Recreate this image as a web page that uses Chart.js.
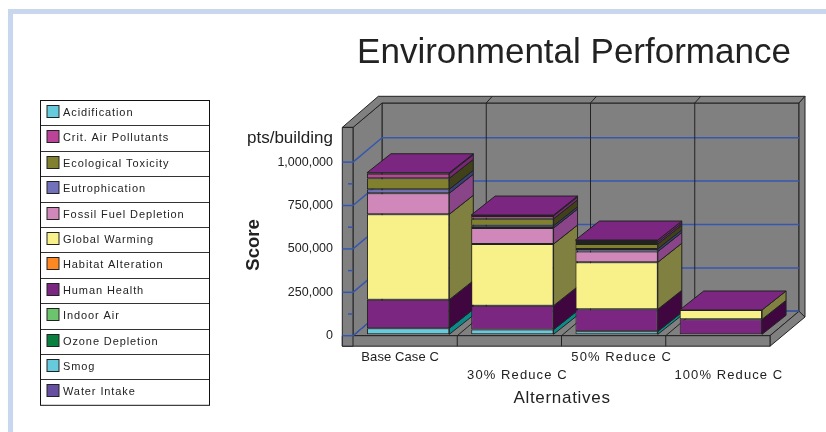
<!DOCTYPE html>
<html>
<head>
<meta charset="utf-8">
<title>Environmental Performance</title>
<script src="https://cdn.jsdelivr.net/npm/chart.js@4"></script>
<style>
  html, body { margin: 0; padding: 0; background: #fff; overflow: hidden; }
  #frame { position: absolute; left: 8px; top: 9px; right: 0; bottom: 0; border-left: 5px solid #c9d7ee; border-top: 5px solid #c9d7ee; }
  #chart { position: absolute; left: 0; top: 0; }
</style>
</head>
<body>
<div id="frame"></div>
<canvas id="chart" width="826" height="432"></canvas>
<script>
const categories = ["Base Case C", "30% Reduce C", "50% Reduce C", "100% Reduce C"];
const yTicks = [0, 250000, 500000, 750000, 1000000];

// legend order, stack runs the other way (last one sits at the bottom)
const seriesNames = ["Acidification", "Crit. Air Pollutants", "Ecological Toxicity", "Eutrophication",
  "Fossil Fuel Depletion", "Global Warming", "Habitat Alteration", "Human Health", "Indoor Air",
  "Ozone Depletion", "Smog", "Water Intake"];

const acidification = [5000, 5000, 11500, 0];
const critAir = [27000, 17000, 11500, 0];
const ecoTox = [63000, 40000, 28000, 0];
const eutrophication = [23000, 13000, 15000, 0];
const fossilFuel = [121000, 92000, 62000, 0];
const globalWarming = [492000, 355000, 271000, 54000];
const habitat = [0, 0, 0, 0];
const humanHealth = [165000, 138000, 127000, 86000];
const indoorAir = [0, 0, 0, 0];
const ozone = [0, 0, 0, 0];
const smog = [34500, 27000, 17000, 0];
const waterIntake = [0, 0, 0, 0];

const seriesValues = [acidification, critAir, ecoTox, eutrophication, fossilFuel, globalWarming,
  habitat, humanHealth, indoorAir, ozone, smog, waterIntake];

const frontColors = ["#66ccdd", "#bb4499", "#80802f", "#7070bb", "#d088bb", "#f8f088",
  "#ff8822", "#7b2680", "#6cc46c", "#0a8040", "#66ccdd", "#664fa0"];
const sideColors = ["#7a2678", "#7a2678", "#40401a", "#384078", "#8a4488", "#808040",
  "#804010", "#3f0640", "#366236", "#054020", "#0a8a8a", "#332850"];
const topColor = "#7b2680";

const wallGray = "#808080";
const edgeDark = "#222222";
const gridBlue = "#3557b0";
const textColor = "#222222";
const fontFamily = "'Liberation Sans', Arial, sans-serif";

// how far the box recedes, and how far each bar sits in from the front plane
const depthX = 29, depthY = 24.4;
const wallX = 10.7;
const capX = 6, capY = 6.7;
const barDepthX = 24, barDepthY = 19;
const barGapX = 3, barGapY = -1.4;

function poly(ctx, pts, fill, stroke) {
  ctx.beginPath();
  ctx.moveTo(pts[0][0], pts[0][1]);
  for (let i = 1; i < pts.length; i++) ctx.lineTo(pts[i][0], pts[i][1]);
  ctx.closePath();
  if (fill) { ctx.fillStyle = fill; ctx.fill(); }
  if (stroke) { ctx.strokeStyle = stroke; ctx.lineWidth = 1; ctx.stroke(); }
}

function line(ctx, x1, y1, x2, y2, color, width) {
  ctx.beginPath();
  ctx.moveTo(x1, y1);
  ctx.lineTo(x2, y2);
  ctx.strokeStyle = color;
  ctx.lineWidth = width || 1;
  ctx.stroke();
}

function label(ctx, str, x, y, font, align, spacing) {
  ctx.font = font;
  ctx.textAlign = align;
  ctx.textBaseline = "middle";
  ctx.letterSpacing = (spacing || 0) + "px";
  ctx.fillStyle = textColor;
  ctx.fillText(str, x, y);
  ctx.letterSpacing = "0px";
}

// back wall, left wall and floor, behind everything
const boxPlugin = {
  id: "box",
  beforeDraw(chart) {
    const ctx = chart.ctx, a = chart.chartArea;
    const l = a.left, r = a.right, t = a.top, b = a.bottom;
    const yScale = chart.scales.y, xScale = chart.scales.x;
    ctx.save();

    // back wall
    poly(ctx, [[l + depthX, t - depthY], [r + depthX, t - depthY], [r + depthX, b - depthY], [l + depthX, b - depthY]], wallGray, edgeDark);
    // floor top
    poly(ctx, [[l, b], [r, b], [r + depthX, b - depthY], [l + depthX, b - depthY]], wallGray, edgeDark);
    // left wall, inner face
    poly(ctx, [[l, t], [l + depthX, t - depthY], [l + depthX, b - depthY], [l, b]], wallGray, edgeDark);
    // wall cap along the top
    poly(ctx, [[l - wallX, t], [l - wallX + depthX + capX + 1, t - depthY - capY], [r + depthX + capX, t - depthY - capY],
      [r + depthX, t - depthY], [l + depthX, t - depthY], [l, t]], wallGray, edgeDark);
    // right wall edge
    poly(ctx, [[r + depthX, t - depthY], [r + depthX + capX, t - depthY - capY], [r + depthX + capX, b - depthY + capY - 1], [r + depthX, b - depthY]], wallGray, edgeDark);
    // floor front and right side
    poly(ctx, [[r, b], [r + depthX, b - depthY], [r + depthX + capX, b - depthY + capY - 1], [r, b + 10.5]], wallGray, edgeDark);
    poly(ctx, [[l - wallX, b], [r, b], [r, b + 10.5], [l - wallX, b + 10.5]], wallGray, edgeDark);
    // left wall front
    poly(ctx, [[l - wallX, t], [l, t], [l, b + 10.5], [l - wallX, b + 10.5]], wallGray, edgeDark);

    // horizontal grid, on back wall and running down the left wall
    yTicks.forEach(v => {
      const y = yScale.getPixelForValue(v);
      line(ctx, l - wallX, y, l, y, gridBlue, 1.5);
      line(ctx, l, y, l + depthX, y - depthY, gridBlue, 1.5);
      line(ctx, l + depthX, y - depthY, r + depthX, y - depthY, gridBlue, 1.5);
    });
    // short marks half way between
    for (let i = 0; i < yTicks.length - 1; i++) {
      const y = yScale.getPixelForValue((yTicks[i] + yTicks[i + 1]) / 2);
      line(ctx, l - 5, y, l, y, gridBlue, 1.5);
    }

    // category dividers
    for (let i = 1; i < categories.length; i++) {
      const x = xScale.getPixelForValue(i - 0.5);
      line(ctx, x + depthX, t - depthY, x + depthX, b - depthY, edgeDark);
      line(ctx, x + depthX, t - depthY, x + depthX + capX, t - depthY - capY, edgeDark);
      line(ctx, x, b, x + depthX, b - depthY, edgeDark);
      line(ctx, x, b, x, b + 10.5, edgeDark);
    }
    ctx.restore();
  }
};

// side and top faces of the bars; the library draws the fronts over them
const barSidesPlugin = {
  id: "barSides",
  beforeDatasetsDraw(chart) {
    const ctx = chart.ctx;
    ctx.save();
    ctx.translate(barGapX, barGapY);
    const tops = {};
    chart.data.datasets.forEach((ds, d) => {
      chart.getDatasetMeta(d).data.forEach((el, i) => {
        if (ds.data[i] <= 0) return;
        const x = el.x + el.width / 2;
        poly(ctx, [[x, el.y], [x + barDepthX, el.y - barDepthY], [x + barDepthX, el.base - barDepthY], [x, el.base]], ds.sideColor, edgeDark);
        tops[i] = el;
      });
    });
    Object.values(tops).forEach(el => {
      const xl = el.x - el.width / 2, xr = el.x + el.width / 2;
      poly(ctx, [[xl, el.y], [xr, el.y], [xr + barDepthX, el.y - barDepthY], [xl + barDepthX, el.y - barDepthY]], topColor, edgeDark);
    });
  },
  afterDatasetsDraw(chart) {
    chart.ctx.restore();
  }
};

// staggered category names, titles and the boxed legend
const textPlugin = {
  id: "texts",
  afterDraw(chart) {
    const ctx = chart.ctx, xScale = chart.scales.x;
    ctx.save();
    label(ctx, "Environmental Performance", 574, 53, "35px " + fontFamily, "center");
    label(ctx, "pts/building", 333, 138, "17px " + fontFamily, "right");
    label(ctx, "Alternatives", 562, 398, "17px " + fontFamily, "center", 0.7);

    ctx.save();
    ctx.translate(254, 245);
    ctx.rotate(-Math.PI / 2);
    label(ctx, "Score", 0, 0, "bold 18.5px " + fontFamily, "center");
    ctx.restore();

    const nudge = [-5, 8, 8, 11];
    const tracking = [0.1, 1.1, 1.1, 1.1];
    categories.forEach((c, i) => {
      const y = i % 2 ? 375 : 357;
      label(ctx, c, xScale.getPixelForValue(i) + nudge[i], y, "13px " + fontFamily, "center", tracking[i]);
    });

    // legend box
    const bx = 40, by = 100, bw = 170, rowH = 25.4;
    ctx.fillStyle = "#fff";
    ctx.fillRect(bx, by, bw, rowH * seriesNames.length);
    seriesNames.forEach((name, i) => {
      const y = by + rowH * i;
      if (i > 0) line(ctx, bx, Math.round(y) + 0.5, bx + bw, Math.round(y) + 0.5, "#333");
      ctx.fillStyle = frontColors[i];
      ctx.fillRect(47, Math.round(y) + 5.5, 12, 12);
      ctx.strokeStyle = edgeDark;
      ctx.lineWidth = 1;
      ctx.strokeRect(47, Math.round(y) + 5.5, 12, 12);
      label(ctx, name, 63, y + 13, "11px " + fontFamily, "left", 0.9);
    });
    ctx.strokeStyle = "#111";
    ctx.strokeRect(bx + 0.5, by + 0.5, bw - 1, rowH * seriesNames.length);
    ctx.restore();
  }
};

const datasets = seriesNames.map((name, i) => ({
  label: name,
  data: seriesValues[i],
  backgroundColor: frontColors[i],
  sideColor: sideColors[i],
  borderColor: edgeDark,
  borderWidth: 1,
  borderSkipped: false,
  clip: false
})).reverse();

new Chart(document.getElementById("chart").getContext("2d"), {
  type: "bar",
  data: { labels: categories, datasets: datasets },
  plugins: [boxPlugin, barSidesPlugin, textPlugin],
  options: {
    responsive: false,
    animation: false,
    devicePixelRatio: 1,
    barPercentage: 0.79,
    categoryPercentage: 1,
    layout: { padding: { left: 0, right: 56, top: 127.4, bottom: 96.3 } },
    plugins: {
      legend: { display: false },
      title: { display: false },
      tooltip: { enabled: false }
    },
    scales: {
      x: {
        stacked: true,
        grid: { display: false },
        border: { display: false },
        ticks: { display: false },
        afterFit(axis) { axis.height = 0; }
      },
      y: {
        stacked: true,
        min: 0,
        max: 1200000,
        grid: { display: false },
        border: { display: false },
        afterBuildTicks(axis) { axis.ticks = yTicks.map(v => ({ value: v })); },
        afterFit(axis) { axis.width = 353; },
        ticks: {
          color: textColor,
          padding: 12,
          font: { family: fontFamily, size: 12.5 },
          callback: v => v.toLocaleString("en-US")
        }
      }
    }
  }
});
</script>
</body>
</html>
